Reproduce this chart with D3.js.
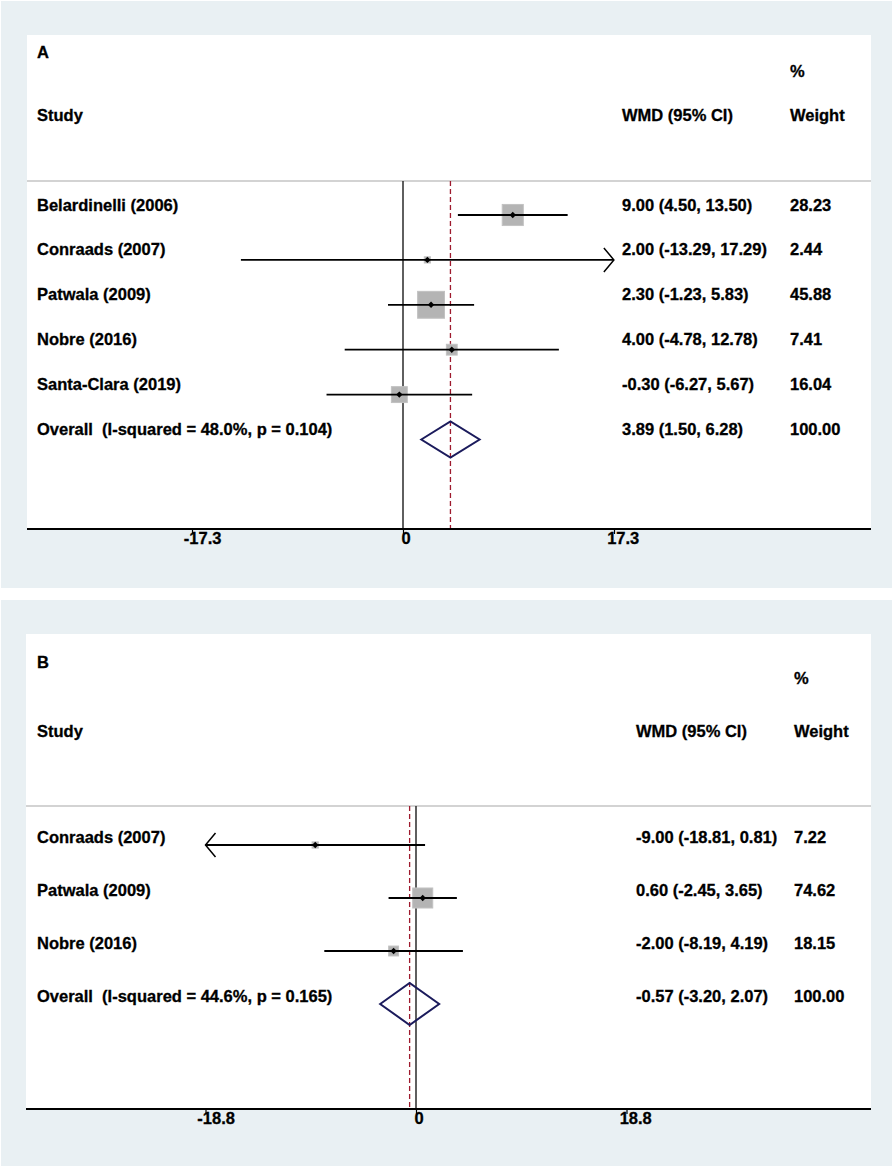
<!DOCTYPE html>
<html>
<head>
<meta charset="utf-8">
<script src="https://cdn.jsdelivr.net/npm/d3@7"></script>
<style>
  body { margin: 0; background: #fff; }
  text { font-family: "Liberation Sans", Arial, sans-serif; font-weight: bold; font-size: 16.5px; fill: #000; stroke: #000; stroke-width: 0.3px; }
</style>
</head>
<body>
<div id="chart"></div>
<script>
// ---- panel A data ----
const studiesA = ["Belardinelli (2006)", "Conraads (2007)", "Patwala (2009)", "Nobre (2016)", "Santa-Clara (2019)"];
const wmdA = [9.00, 2.00, 2.30, 4.00, -0.30];
const lowerA = [4.50, -13.29, -1.23, -4.78, -6.27];
const upperA = [13.50, 17.29, 5.83, 12.78, 5.67];
const weightA = [28.23, 2.44, 45.88, 7.41, 16.04];
const overallA = [3.89, 1.50, 6.28];
const overallLabelA = "Overall  (I-squared = 48.0%, p = 0.104)";
const ticksA = [-17.3, 0, 17.3];

// ---- panel B data ----
const studiesB = ["Conraads (2007)", "Patwala (2009)", "Nobre (2016)"];
const wmdB = [-9.00, 0.60, -2.00];
const lowerB = [-18.81, -2.45, -8.19];
const upperB = [0.81, 3.65, 4.19];
const weightB = [7.22, 74.62, 18.15];
const overallB = [-0.57, -3.20, 2.07];
const overallLabelB = "Overall  (I-squared = 44.6%, p = 0.165)";
const ticksB = [-18.8, 0, 18.8];

const width = 893, height = 1168;
// plain hyphen minus, like the stata output
const locale = d3.formatLocale({ decimal: ".", thousands: ",", grouping: [3], currency: ["", ""], minus: "-" });
const f2 = locale.format(".2f");
const f1 = locale.format(".1f");

const svg = d3.select("#chart")
  .append("svg")
  .attr("width", width)
  .attr("height", height);

function drawPanel(p) {
  const g = svg.append("g").attr("class", "panel");

  // outer region + plot region
  g.append("rect")
    .attr("x", p.bg[0]).attr("y", p.bg[1])
    .attr("width", p.bg[2]).attr("height", p.bg[3])
    .attr("fill", "#e9f0f3");
  g.append("rect")
    .attr("x", p.plot[0]).attr("y", p.plot[1])
    .attr("width", p.plot[2] - p.plot[0]).attr("height", p.plot[3] - p.plot[1])
    .attr("fill", "#fff");

  const xScale = d3.scaleLinear()
    .domain([p.ticks[0], p.ticks[p.ticks.length - 1]])
    .range(p.range);

  const n = p.studies.length;
  const yScale = d3.scaleLinear()
    .domain([0, 1])
    .range([p.rowStart, p.rowStart + p.rowStep]);

  const rows = p.studies.map((s, i) => ({
    study: s, est: p.wmd[i], lo: p.lower[i], hi: p.upper[i], w: p.weight[i], i
  }));

  // headers
  g.append("text").attr("x", 37).attr("y", p.letterY).text(p.letter);
  g.append("text").attr("x", p.wtX).attr("y", p.pctY).text("%");
  g.append("text").attr("x", 37).attr("y", p.headY).text("Study");
  g.append("text").attr("x", p.wmdX).attr("y", p.headY).text("WMD (95% CI)");
  g.append("text").attr("x", p.wtX).attr("y", p.headY).text("Weight");

  g.append("line")
    .attr("x1", p.plot[0]).attr("x2", p.plot[2])
    .attr("y1", p.lineY).attr("y2", p.lineY)
    .attr("stroke", "#c4c4c4").attr("stroke-width", 1.5);

  // zero line and overall dashed line
  g.append("line")
    .attr("x1", xScale(0)).attr("x2", xScale(0))
    .attr("y1", p.lineY).attr("y2", p.plot[3])
    .attr("stroke", "#2a2a2a").attr("stroke-width", 1.5);
  g.append("line")
    .attr("x1", xScale(p.overall[0])).attr("x2", xScale(p.overall[0]))
    .attr("y1", p.lineY).attr("y2", p.plot[3])
    .attr("stroke", "#9e1a2e").attr("stroke-width", 1.3)
    .attr("stroke-dasharray", "5,3");

  const lim = p.ticks[p.ticks.length - 1];
  const clip = v => Math.max(-lim, Math.min(lim, v));

  const row = g.selectAll(".row")
    .data(rows)
    .enter()
    .append("g")
    .attr("class", "row");

  // weight boxes
  row.append("rect")
    .attr("x", d => xScale(d.est) - p.boxK * Math.sqrt(d.w) / 2)
    .attr("y", d => yScale(d.i) - p.boxK * Math.sqrt(d.w) / 2)
    .attr("width", d => p.boxK * Math.sqrt(d.w))
    .attr("height", d => p.boxK * Math.sqrt(d.w))
    .attr("fill", "#b4b4b4")
    .attr("stroke", "#c2c2c2")
    .attr("stroke-width", 1);

  // CI lines
  row.append("line")
    .attr("x1", d => xScale(clip(d.lo)))
    .attr("x2", d => xScale(clip(d.hi)))
    .attr("y1", d => yScale(d.i)).attr("y2", d => yScale(d.i))
    .attr("stroke", "#000").attr("stroke-width", 1.8);

  // arrows where the CI runs to the edge of the axis
  row.filter(d => d.hi >= lim - 0.05)
    .append("path")
    .attr("d", d => {
      const x = xScale(clip(d.hi)), y = yScale(d.i);
      return `M ${x - 10} ${y - 12} L ${x} ${y} L ${x - 10} ${y + 12}`;
    })
    .attr("fill", "none").attr("stroke", "#000").attr("stroke-width", 1.5);
  row.filter(d => d.lo <= -lim + 0.05)
    .append("path")
    .attr("d", d => {
      const x = xScale(clip(d.lo)), y = yScale(d.i);
      return `M ${x + 10} ${y - 12} L ${x} ${y} L ${x + 10} ${y + 12}`;
    })
    .attr("fill", "none").attr("stroke", "#000").attr("stroke-width", 1.5);

  // point markers
  row.append("path")
    .attr("d", d => {
      const x = xScale(d.est), y = yScale(d.i), s = 3.2;
      return `M ${x} ${y - s} L ${x + s} ${y} L ${x} ${y + s} L ${x - s} ${y} Z`;
    })
    .attr("fill", "#000");

  // row texts
  row.append("text")
    .attr("x", 37)
    .attr("y", d => yScale(d.i) + p.textOff)
    .text(d => d.study);
  row.append("text")
    .attr("x", p.wmdX)
    .attr("y", d => yScale(d.i) + p.textOff)
    .text(d => `${f2(d.est)} (${f2(d.lo)}, ${f2(d.hi)})`);
  row.append("text")
    .attr("x", p.wtX)
    .attr("y", d => yScale(d.i) + p.textOff)
    .text(d => f2(d.w));

  // overall
  const oy = yScale(n);
  g.append("path")
    .attr("d", `M ${xScale(p.overall[1])} ${oy} L ${xScale(p.overall[0])} ${oy - p.diaH} L ${xScale(p.overall[2])} ${oy} L ${xScale(p.overall[0])} ${oy + p.diaH} Z`)
    .attr("fill", "none").attr("stroke", "#1b1b5c").attr("stroke-width", 2);
  g.append("text")
    .attr("x", 37).attr("y", oy + p.textOff)
    .style("white-space", "pre")
    .text(p.overallLabel);
  g.append("text")
    .attr("x", p.wmdX).attr("y", oy + p.textOff)
    .text(`${f2(p.overall[0])} (${f2(p.overall[1])}, ${f2(p.overall[2])})`);
  g.append("text")
    .attr("x", p.wtX).attr("y", oy + p.textOff)
    .text(f2(100));

  // x axis
  const xAxis = d3.axisBottom(xScale)
    .tickValues(p.ticks)
    .tickFormat(d => d === 0 ? "0" : f1(d))
    .tickSizeInner(5)
    .tickSizeOuter(0);

  const ax = g.append("g")
    .attr("class", "x axis")
    .attr("transform", `translate(0, ${p.plot[3]})`)
    .call(xAxis);
  ax.select(".domain").remove();
  ax.selectAll(".tick line").attr("stroke", "#000").attr("stroke-width", 1.2);
  ax.selectAll(".tick text")
    .attr("y", 15).attr("dy", 0)
    .attr("font-size", null).attr("font-family", null)
    .attr("fill", "#000")
    .each(function() {
      const w = this.getComputedTextLength();
      d3.select(this).attr("dx", w * 0.27);
    });

  g.append("line")
    .attr("x1", p.plot[0]).attr("x2", p.plot[2])
    .attr("y1", p.plot[3]).attr("y2", p.plot[3])
    .attr("stroke", "#000").attr("stroke-width", 2);
}

drawPanel({
  letter: "A", studies: studiesA, wmd: wmdA, lower: lowerA, upper: upperA, weight: weightA,
  overall: overallA, overallLabel: overallLabelA, ticks: ticksA,
  bg: [1, 1, 891, 587], plot: [27, 35, 871, 529],
  letterY: 58, pctY: 77, headY: 121, lineY: 181,
  rowStart: 215, rowStep: 44.9, textOff: -4.5,
  range: [192, 614], wmdX: 622, wtX: 790, boxK: 3.97, diaH: 18
});

drawPanel({
  letter: "B", studies: studiesB, wmd: wmdB, lower: lowerB, upper: upperB, weight: weightB,
  overall: overallB, overallLabel: overallLabelB, ticks: ticksB,
  bg: [1, 600, 891, 566], plot: [26, 634, 871, 1109],
  letterY: 668, pctY: 684, headY: 737, lineY: 806,
  rowStart: 845, rowStep: 53, textOff: -2.5,
  range: [205.5, 626.5], wmdX: 636, wtX: 794, boxK: 2.32, diaH: 21
});
</script>
</body>
</html>
